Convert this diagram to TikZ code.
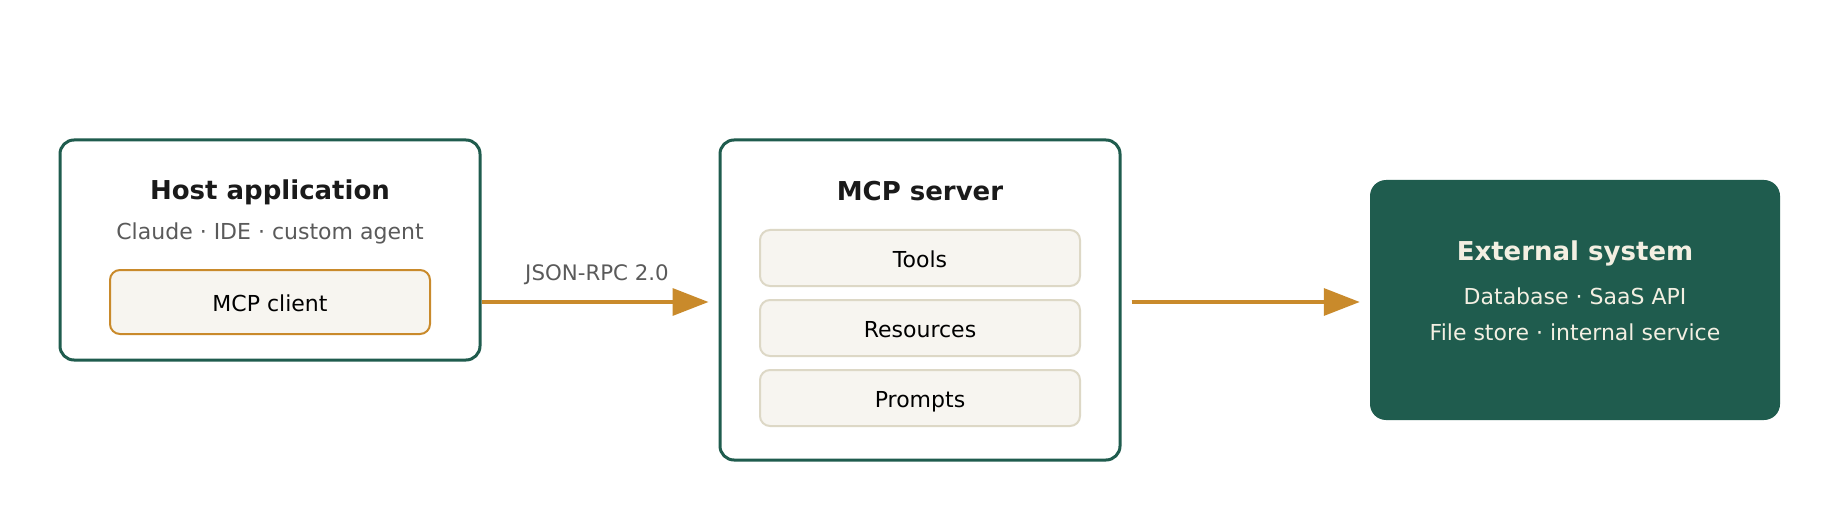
\documentclass[tikz,border=0pt]{standalone}
\usepackage{fontspec}
\setmainfont{DejaVu Sans}
\usetikzlibrary{arrows.meta}
\definecolor{mcpgreen}{HTML}{1F5C4E}
\definecolor{mcporange}{HTML}{C98A2B}
\definecolor{mcpfill}{HTML}{F7F5F0}
\definecolor{mcpline}{HTML}{DDD8C6}
\definecolor{mcpgray}{HTML}{5A5A5A}
\definecolor{mcpdark}{HTML}{1A1A1A}
\definecolor{mcpcream}{HTML}{F3EFE2}
\begin{document}
\begin{tikzpicture}[x=0.75pt,y=-0.75pt,
  outerbox/.style={draw=mcpgreen, line width=2.25pt, fill=white, rounded corners=10.5pt, inner sep=0pt},
  clientbox/.style={draw=mcporange, line width=1.5pt, fill=mcpfill, rounded corners=7.5pt, inner sep=0pt, minimum width=240pt, minimum height=48pt},
  itembox/.style={draw=mcpline, line width=1.5pt, fill=mcpfill, rounded corners=7.5pt, inner sep=0pt, minimum width=240pt, minimum height=42pt},
  extbox/.style={fill=mcpgreen, rounded corners=12pt, inner sep=0pt, minimum width=307.5pt, minimum height=180pt},
  titletext/.style={anchor=base, inner sep=0pt, text=mcpdark, font=\fontsize{19.5}{23}\selectfont\bfseries},
  subtext/.style={anchor=base, inner sep=0pt, text=mcpgray, font=\fontsize{16.5}{20}\selectfont},
  itemtext/.style={anchor=base, inner sep=0pt, text=black, font=\fontsize{16.5}{20}\selectfont},
  exttitle/.style={anchor=base, inner sep=0pt, text=mcpcream, font=\fontsize{19.5}{23}\selectfont\bfseries},
  exttext/.style={anchor=base, inner sep=0pt, text=mcpcream, font=\fontsize{16.5}{20}\selectfont},
  flow/.style={draw=mcporange, line width=2.6pt, -{Triangle[length=27pt, width=20.25pt]}},
  flowlabel/.style={anchor=base, inner sep=0pt, text=mcpgray, font=\fontsize{16}{19}\selectfont}
]
\useasboundingbox (0,0) rectangle (1840,520);
\fill[white] (0,0) rectangle (1840,520);

% Host application
\node[outerbox, minimum width=315pt, minimum height=165pt] (host) at (270,250) {};
\node[titletext] (hosttitle) at (270,200) {Host application};
\node[subtext] (hostsub) at (270,239) {Claude · IDE · custom agent};
\node[clientbox] (client) at (270,302) {};
\node[itemtext] (clienttext) at (270,311.7) {MCP client};

% MCP server
\node[outerbox, minimum width=300pt, minimum height=240pt] (server) at (920,300) {};
\node[titletext] (servertitle) at (920,200.5) {MCP server};
\node[itembox] (tools) at (920,258) {};
\node[itemtext] (toolstext) at (920,267.7) {Tools};
\node[itembox] (resources) at (920,328) {};
\node[itemtext] (resourcestext) at (920,337.7) {Resources};
\node[itembox] (prompts) at (920,398) {};
\node[itemtext] (promptstext) at (920,407.7) {Prompts};

% External system
\node[extbox] (ext) at (1575,300) {};
\node[exttitle] (exttitle) at (1575,260) {External system};
\node[exttext] (extl1) at (1575,304.3) {Database · SaaS API};
\node[exttext] (extl2) at (1575,340) {File store · internal service};

% Connectors
\draw[flow, shorten >=7.5pt] (host.east |- client.center) -- (server.west |- client.center);
\node[flowlabel] (rpc) at (597,280.7) {JSON-RPC 2.0};
\draw[flow, shorten <=7.5pt, shorten >=7.5pt] (server.east |- client.center) -- (ext.west |- client.center);
\end{tikzpicture}
\end{document}
